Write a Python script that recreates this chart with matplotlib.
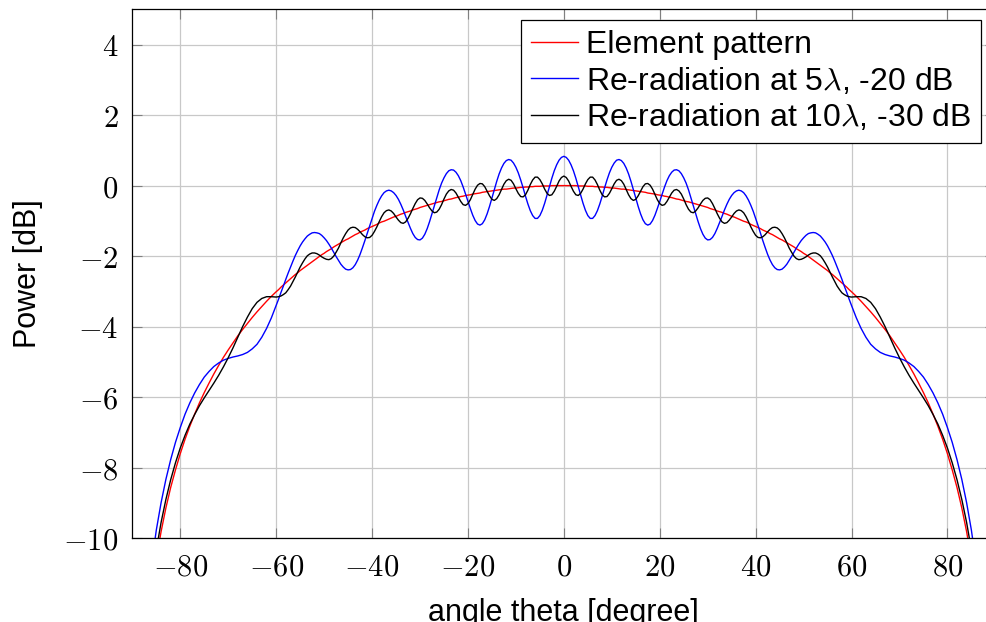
import matplotlib
matplotlib.use("Agg")
import matplotlib.pyplot as plt
from matplotlib.ticker import FuncFormatter

# values read for theta >= 0; the pattern is symmetric about broadside
theta_pos = [0, 0.5, 1, 1.5, 2, 2.5, 3, 3.5, 4, 4.5,
             5, 5.5, 6, 6.5, 7, 7.5, 8, 8.5, 9, 9.5,
             10, 10.5, 11, 11.5, 12, 12.5, 13, 13.5, 14, 14.5,
             15, 15.5, 16, 16.5, 17, 17.5, 18, 18.5, 19, 19.5,
             20, 20.5, 21, 21.5, 22, 22.5, 23, 23.5, 24, 24.5,
             25, 25.5, 26, 26.5, 27, 27.5, 28, 28.5, 29, 29.5,
             30, 30.5, 31, 31.5, 32, 32.5, 33, 33.5, 34, 34.5,
             35, 35.5, 36, 36.5, 37, 37.5, 38, 38.5, 39, 39.5,
             40, 40.5, 41, 41.5, 42, 42.5, 43, 43.5, 44, 44.5,
             45, 45.5, 46, 46.5, 47, 47.5, 48, 48.5, 49, 49.5,
             50, 50.5, 51, 51.5, 52, 52.5, 53, 53.5, 54, 54.5,
             55, 55.5, 56, 56.5, 57, 57.5, 58, 58.5, 59, 59.5,
             60,
             61, 62, 63, 64, 65, 66, 67, 68, 69, 70,
             71, 72, 73, 74, 75, 76, 77, 78, 79, 80,
             81, 82, 83, 84, 85, 86]

element_pos = [0.00, 0.00, 0.00, 0.00, 0.00, 0.00, -0.01, -0.01, -0.01, -0.01,
               -0.02, -0.02, -0.02, -0.03, -0.03, -0.04, -0.04, -0.05, -0.05, -0.06,
               -0.07, -0.07, -0.08, -0.09, -0.10, -0.10, -0.11, -0.12, -0.13, -0.14,
               -0.15, -0.16, -0.17, -0.18, -0.19, -0.21, -0.22, -0.23, -0.24, -0.26,
               -0.27, -0.28, -0.30, -0.31, -0.33, -0.34, -0.36, -0.38, -0.39, -0.41,
               -0.43, -0.45, -0.46, -0.48, -0.50, -0.52, -0.54, -0.56, -0.58, -0.60,
               -0.62, -0.65, -0.67, -0.69, -0.72, -0.74, -0.76, -0.79, -0.81, -0.84,
               -0.87, -0.89, -0.92, -0.95, -0.98, -1.01, -1.03, -1.06, -1.10, -1.13,
               -1.16, -1.19, -1.22, -1.26, -1.29, -1.32, -1.36, -1.39, -1.43, -1.47,
               -1.51, -1.54, -1.58, -1.62, -1.66, -1.70, -1.74, -1.79, -1.83, -1.87,
               -1.92, -1.96, -2.01, -2.06, -2.11, -2.16, -2.21, -2.26, -2.31, -2.36,
               -2.41, -2.47, -2.52, -2.58, -2.64, -2.70, -2.76, -2.82, -2.88, -2.95,
               -3.01,
               -3.14, -3.28, -3.43, -3.58, -3.74, -3.91, -4.08, -4.26, -4.46, -4.66,
               -4.87, -5.10, -5.34, -5.60, -5.87, -6.16, -6.48, -6.82, -7.19, -7.60,
               -8.06, -8.56, -9.14, -9.81, -10.60, -11.56]

rerad_5_pos = [0.83, 0.80, 0.72, 0.59, 0.42, 0.21, -0.03, -0.27, -0.50, -0.70,
               -0.85, -0.93, -0.93, -0.85, -0.71, -0.52, -0.30, -0.06, 0.16, 0.36,
               0.52, 0.64, 0.72, 0.74, 0.71, 0.63, 0.50, 0.33, 0.12, -0.11,
               -0.35, -0.59, -0.80, -0.97, -1.08, -1.12, -1.09, -0.99, -0.84, -0.65,
               -0.45, -0.24, -0.04, 0.14, 0.28, 0.38, 0.44, 0.45, 0.42, 0.34,
               0.22, 0.07, -0.12, -0.34, -0.57, -0.80, -1.02, -1.22, -1.38, -1.49,
               -1.54, -1.53, -1.47, -1.36, -1.21, -1.04, -0.87, -0.69, -0.53, -0.39,
               -0.28, -0.20, -0.15, -0.13, -0.15, -0.20, -0.29, -0.41, -0.56, -0.73,
               -0.93, -1.13, -1.35, -1.56, -1.76, -1.95, -2.11, -2.24, -2.33, -2.38,
               -2.39, -2.37, -2.31, -2.23, -2.12, -2.01, -1.89, -1.77, -1.66, -1.56,
               -1.48, -1.41, -1.36, -1.34, -1.33, -1.34, -1.38, -1.43, -1.51, -1.60,
               -1.71, -1.84, -1.98, -2.14, -2.31, -2.48, -2.66, -2.85, -3.03, -3.22,
               -3.40,
               -3.75, -4.05, -4.30, -4.50, -4.63, -4.73, -4.79, -4.83, -4.86, -4.90,
               -4.95, -5.03, -5.13, -5.27, -5.43, -5.64, -5.88, -6.16, -6.48, -6.86,
               -7.28, -7.77, -8.33, -8.99, -9.77, -10.74]

rerad_10_pos = [0.27, 0.23, 0.13, -0.02, -0.16, -0.26, -0.28, -0.22, -0.10, 0.05,
                0.17, 0.24, 0.24, 0.16, 0.03, -0.13, -0.26, -0.32, -0.31, -0.22,
                -0.09, 0.05, 0.15, 0.18, 0.14, 0.04, -0.11, -0.26, -0.37, -0.42,
                -0.39, -0.29, -0.16, -0.03, 0.05, 0.06, 0.01, -0.10, -0.25, -0.40,
                -0.51, -0.56, -0.54, -0.45, -0.33, -0.21, -0.13, -0.11, -0.15, -0.24,
                -0.38, -0.54, -0.67, -0.75, -0.77, -0.72, -0.63, -0.52, -0.42, -0.36,
                -0.35, -0.40, -0.51, -0.65, -0.80, -0.93, -1.03, -1.07, -1.05, -0.98,
                -0.89, -0.79, -0.72, -0.69, -0.71, -0.77, -0.88, -1.02, -1.17, -1.30,
                -1.41, -1.47, -1.48, -1.45, -1.39, -1.31, -1.24, -1.19, -1.18, -1.20,
                -1.26, -1.36, -1.48, -1.62, -1.77, -1.89, -2.00, -2.07, -2.10, -2.09,
                -2.06, -2.02, -1.97, -1.93, -1.91, -1.91, -1.94, -1.99, -2.08, -2.19,
                -2.31, -2.45, -2.59, -2.72, -2.85, -2.95, -3.04, -3.09, -3.13, -3.15,
                -3.16,
                -3.15, -3.15, -3.20, -3.31, -3.49, -3.73, -4.00, -4.30, -4.60, -4.88,
                -5.14, -5.38, -5.60, -5.81, -6.02, -6.24, -6.49, -6.76, -7.08, -7.44,
                -7.86, -8.34, -8.90, -9.55, -10.33, -11.30]

labels = ['Element pattern',
          r'Re-radiation at 5$\lambda$, -20 dB',
          r'Re-radiation at 10$\lambda$, -30 dB']
colors = ['red', 'blue', 'black']

# mirror to negative angles
theta = [-t for t in theta_pos[:0:-1]] + theta_pos
series = [s[:0:-1] + s for s in (element_pos, rerad_5_pos, rerad_10_pos)]

plt.rcParams['font.family'] = ['Liberation Sans', 'DejaVu Sans']
plt.rcParams['mathtext.fontset'] = 'cm'

fig = plt.figure(figsize=(9.86, 6.22), dpi=100)
# right frame is cut off in the reference, so the axes run past the figure edge
ax = fig.add_axes([0.1342, 0.1346, 0.8753, 0.8505])

for ys, c, lab in zip(series, colors, labels):
    ax.plot(theta, ys, color=c, lw=1.0, label=lab)

ax.set_xlim(-90, 90)
ax.set_ylim(-10, 5)
ax.set_xticks(range(-80, 81, 20))
ax.set_yticks(range(-10, 5, 2))
fmt = FuncFormatter(lambda v, p: r'$%d$' % v)
ax.xaxis.set_major_formatter(fmt)
ax.yaxis.set_major_formatter(fmt)
ax.grid(True, color='#c8c8c8', lw=0.9)
ax.set_axisbelow(True)
ax.tick_params(direction='in', length=7, width=0.8, color='#808080',
               top=True, right=True, labelsize=22, pad=10)
for sp in ax.spines.values():
    sp.set_linewidth(0.9)

ax.set_xlabel('angle theta [degree]', fontsize=22)
ax.set_ylabel('Power [dB]', fontsize=22)
ax.xaxis.set_label_coords(0.5, -0.113)
ax.yaxis.set_label_coords(-0.1035, 0.5)

leg = ax.legend(loc='upper left', bbox_to_anchor=(521 / 986, 1 - 20 / 622),
                bbox_transform=fig.transFigure, borderaxespad=0, fontsize=23,
                fancybox=False, framealpha=1, edgecolor='black',
                handlelength=1.45, handletextpad=0.25, labelspacing=0.17,
                borderpad=0.32)
leg.get_frame().set_linewidth(0.9)

fig.savefig('out.png', dpi=100)
